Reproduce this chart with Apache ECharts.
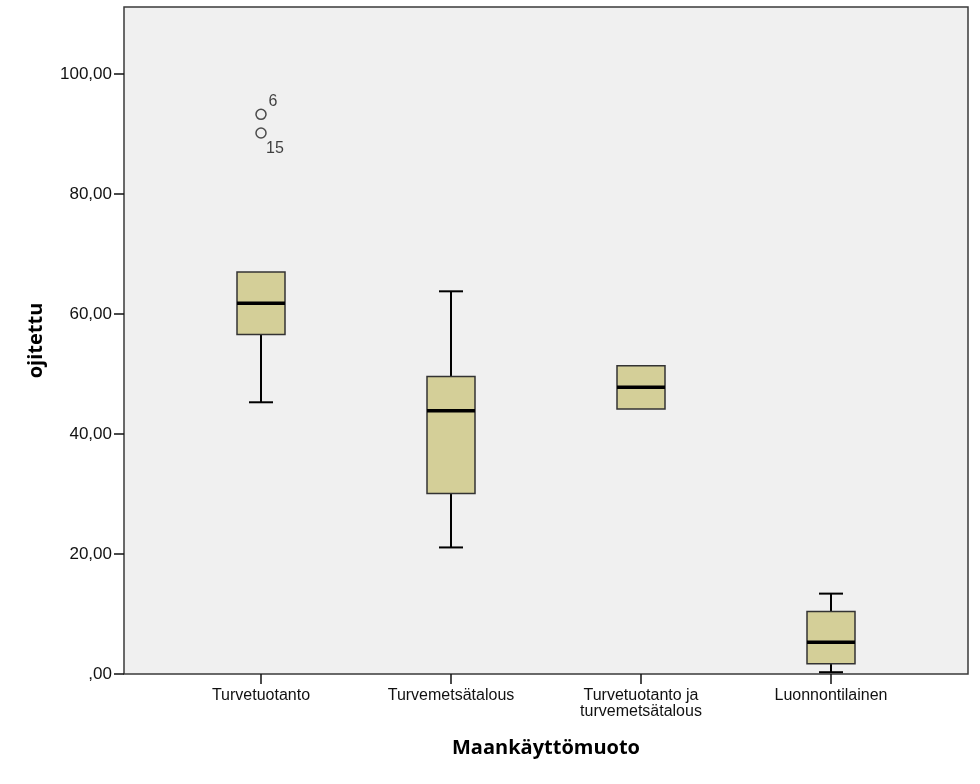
<!DOCTYPE html>
<html>
<head>
<meta charset="utf-8">
<script src="https://cdn.jsdelivr.net/npm/echarts@6/dist/echarts.min.js"></script>
<style>
html,body{margin:0;padding:0;background:#fff;}
#c{width:980px;height:784px;}
</style>
</head>
<body>
<div id="c"></div>
<script>
// ---- data ----
var categories = ['Turvetuotanto', 'Turvemetsätalous', 'Turvetuotanto ja\nturvemetsätalous', 'Luonnontilainen'];
// [min, Q1, median, Q3, max]
var boxValues = [
  [45.3, 56.6, 61.8, 67.0, 67.0],
  [21.1, 30.1, 43.9, 49.6, 63.8],
  [44.2, 44.2, 47.8, 51.4, 51.4],
  [0.3, 1.7, 5.3, 10.4, 13.4]
];
// outliers: [category index, value, case label]
var outliers = [
  [0, 93.3, '6'],
  [0, 90.2, '15']
];
var yTicks = [0, 20, 40, 60, 80, 100];
var yMax = 111.2;
var xTitle = 'Maankäyttömuoto';
var yTitle = 'ojitettu';

function fmtY(v) {
  if (v === 0) return ',00';
  return v.toFixed(2).replace('.', ',');
}

var chart = echarts.init(document.getElementById('c'), null, {renderer: 'canvas'});

var boxSeriesData = boxValues.map(function (b, i) { return [i].concat(b); });

var option = {
  backgroundColor: '#ffffff',
  animation: false,
  grid: [
    {left: 166, right: 54, top: 7, bottom: 110},
    {left: 124, right: 12, top: 7, bottom: 110, show: true, backgroundColor: '#F0F0F0', borderColor: '#3a3a3a', borderWidth: 1.5, z: 0}
  ],
  xAxis: [
    {
      gridIndex: 0, type: 'category', data: categories, boundaryGap: true,
      axisLine: {show: false},
      axisTick: {show: true, alignWithLabel: true, length: 10, lineStyle: {color: '#111', width: 1.5}},
      axisLabel: {margin: 14, color: '#111', fontFamily: 'Liberation Sans', fontSize: 16, lineHeight: 16, interval: 0},
      splitLine: {show: false}
    },
    {
      gridIndex: 1, type: 'value', min: 0, max: 1,
      axisLine: {show: false}, axisTick: {show: false}, axisLabel: {show: false}, splitLine: {show: false},
      name: xTitle, nameLocation: 'middle', nameGap: 64,
      nameTextStyle: {fontFamily: 'Open Sans', fontWeight: 'bold', fontSize: 20, color: '#000'}
    }
  ],
  yAxis: [
    {
      gridIndex: 0, type: 'value', min: 0, max: yMax,
      axisLine: {show: false}, axisTick: {show: false}, axisLabel: {show: false}, splitLine: {show: false}
    },
    {
      gridIndex: 1, type: 'value', min: 0, max: yMax,
      axisLine: {show: false},
      axisTick: {show: true, length: 10, customValues: yTicks, lineStyle: {color: '#111', width: 1.5}},
      axisLabel: {customValues: yTicks, formatter: fmtY, margin: 12, color: '#111', fontFamily: 'Liberation Sans', fontSize: 17},
      splitLine: {show: false},
      name: yTitle, nameLocation: 'middle', nameGap: 78, nameRotate: 90,
      nameTextStyle: {fontFamily: 'Open Sans', fontWeight: 'bold', fontSize: 20, color: '#000'}
    }
  ],
  series: [
    {
      type: 'custom',
      xAxisIndex: 0, yAxisIndex: 0,
      data: boxSeriesData,
      encode: {x: 0, y: [1, 2, 3, 4, 5]},
      z: 3,
      renderItem: function (params, api) {
        var idx = api.value(0);
        var pMin = api.coord([idx, api.value(1)]);
        var pQ1 = api.coord([idx, api.value(2)]);
        var pMed = api.coord([idx, api.value(3)]);
        var pQ3 = api.coord([idx, api.value(4)]);
        var pMax = api.coord([idx, api.value(5)]);
        var cx = pMed[0];
        var hw = 24, cw = 12;
        var children = [];
        var wStyle = {stroke: '#000', lineWidth: 2};
        if (pMax[1] < pQ3[1] - 0.5) {
          children.push({type: 'line', shape: {x1: cx, y1: pQ3[1], x2: cx, y2: pMax[1]}, style: wStyle});
          children.push({type: 'line', shape: {x1: cx - cw, y1: pMax[1], x2: cx + cw, y2: pMax[1]}, style: wStyle});
        }
        if (pMin[1] > pQ1[1] + 0.5) {
          children.push({type: 'line', shape: {x1: cx, y1: pQ1[1], x2: cx, y2: pMin[1]}, style: wStyle});
          children.push({type: 'line', shape: {x1: cx - cw, y1: pMin[1], x2: cx + cw, y2: pMin[1]}, style: wStyle});
        }
        children.push({
          type: 'rect',
          shape: {x: cx - hw, y: pQ3[1], width: hw * 2, height: pQ1[1] - pQ3[1]},
          style: {fill: '#D4CF98', stroke: '#333', lineWidth: 1.5}
        });
        children.push({type: 'line', shape: {x1: cx - hw, y1: pMed[1], x2: cx + hw, y2: pMed[1]}, style: {stroke: '#000', lineWidth: 3.5}});
        return {type: 'group', children: children};
      }
    },
    {
      type: 'scatter',
      xAxisIndex: 0, yAxisIndex: 0,
      data: outliers.map(function (o, i) {
        return {
          value: [o[0], o[1]],
          label: {
            show: true, formatter: o[2], position: 'inside',
            offset: i === 0 ? [12, -13] : [14, 16],
            fontFamily: 'Liberation Sans', fontSize: 16, color: '#111'
          }
        };
      }),
      symbol: 'circle', symbolSize: 10,
      itemStyle: {color: 'rgba(0,0,0,0)', borderColor: '#222', borderWidth: 1.5},
      z: 4
    }
  ]
};
chart.setOption(option);
</script>
</body>
</html>
